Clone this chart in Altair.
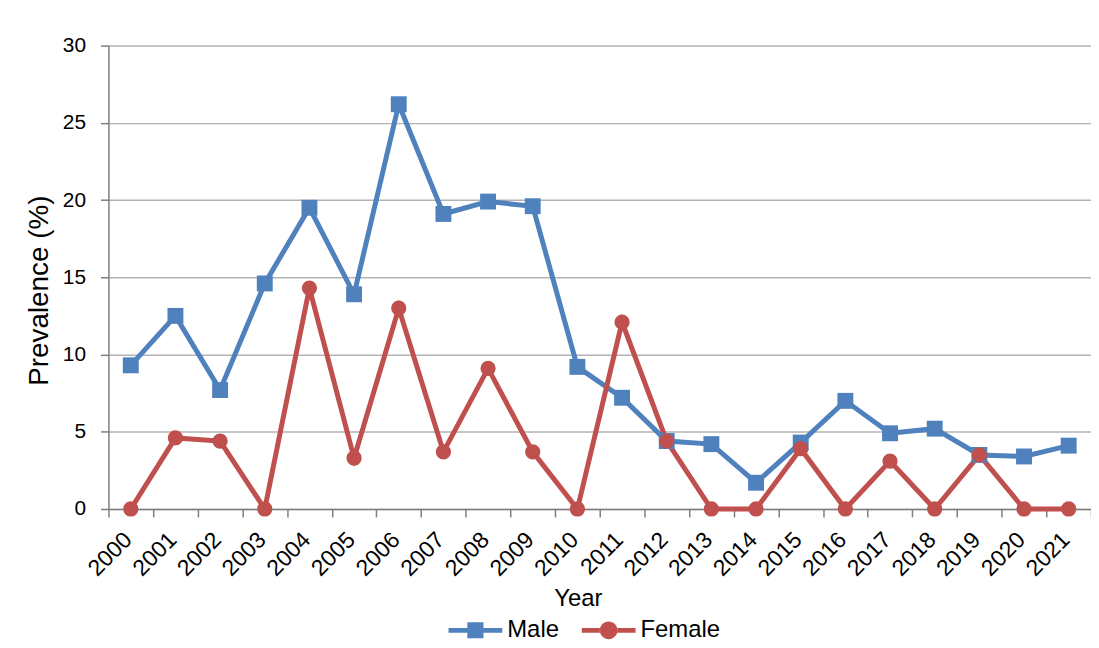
import altair as alt
import pandas as pd

years = ["2000", "2001", "2002", "2003", "2004", "2005", "2006", "2007", "2008", "2009", "2010",
         "2011", "2012", "2013", "2014", "2015", "2016", "2017", "2018", "2019", "2020", "2021"]
male = [9.3, 12.5, 7.7, 14.6, 19.5, 13.9, 26.2, 19.1, 19.9, 19.6, 9.2,
        7.2, 4.4, 4.2, 1.7, 4.3, 7.0, 4.9, 5.2, 3.5, 3.4, 4.1]
female = [0.0, 4.6, 4.4, 0.0, 14.3, 3.3, 13.0, 3.7, 9.1, 3.7, 0.0,
          12.1, 4.4, 0.0, 0.0, 3.9, 0.0, 3.1, 0.0, 3.5, 0.0, 0.0]
series = ["Male", "Female"]
colors = ["#4F81BD", "#C0504D"]
shapes = ["square", "circle"]

rows = []
for name, vals in zip(series, [male, female]):
    for y, v in zip(years, vals):
        rows.append({"Year": y, "Sex": name, "Prevalence": v})
df = pd.DataFrame(rows)

FONT = "Liberation Sans"

male_sym = "M-1,-0.09H-0.3V0.09H-1Z M0.3,-0.09H1V0.09H0.3Z M-0.3,-0.3H0.3V0.3H-0.3Z"
female_sym = ("M-1,-0.09H-0.32V0.09H-1Z M0.32,-0.09H1V0.09H0.32Z "
              "M-0.33,0A0.33,0.33,0,1,0,0.33,0A0.33,0.33,0,1,0,-0.33,0Z")

x_enc = alt.X(
    "Year:O",
    bandPosition=0.5,
    scale=alt.Scale(type="band", paddingInner=0, paddingOuter=0),
    axis=alt.Axis(
        title="Year", tickBand="extent", labelAngle=-45, labelAlign="right",
        labelBaseline="middle", labelFontSize=23, labelPadding=19, labelOffset=-3,
        labelFont=FONT, labelColor="#000000", tickSize=8, tickColor="#7f7f7f", tickWidth=1.5,
        domainColor="#7f7f7f", domainWidth=1.5, grid=False,
        titleFontSize=24, titleFont=FONT, titleFontWeight="normal", titleColor="#000000",
        titleX=472, titleY=97, titleBaseline="alphabetic", titleAlign="center",
    ),
)
y_enc = alt.Y(
    "Prevalence:Q",
    scale=alt.Scale(domain=[0, 30], nice=False),
    axis=alt.Axis(
        title="Prevalence (%)", values=[0, 5, 10, 15, 20, 25, 30],
        labelFontSize=21, labelFont=FONT, labelColor="#000000", labelPadding=15,
        tickSize=8, tickColor="#7f7f7f", tickWidth=1.5,
        domainColor="#7f7f7f", domainWidth=1.5,
        grid=True, gridColor="#b3b3b3", gridWidth=1.5,
        titleFontSize=28, titleFont=FONT, titleFontWeight="normal", titleColor="#000000",
        titleX=-69, titleY=246, titleAngle=-90, titleAlign="center", titleBaseline="middle",
    ),
)

shape_expr = "datum.value === 'Male' ? '%s' : '%s'" % (male_sym, female_sym)
fill_expr = "datum.value === 'Male' ? '%s' : '%s'" % (colors[0], colors[1])

color_enc = alt.Color(
    "Sex:N",
    scale=alt.Scale(domain=series, range=colors),
    sort=series,
    legend=alt.Legend(
        title=None, orient="none", legendX=342, legendY=561, direction="horizontal",
        columns=2, symbolSize=2916, labelFontSize=24, labelFont=FONT, labelColor="#000000",
        labelOffset=5, columnPadding=22, padding=0, symbolStrokeWidth=0,
        symbolType=alt.ExprRef(expr=shape_expr),
        symbolFillColor=alt.ExprRef(expr=fill_expr),
        symbolStrokeColor="transparent", symbolOpacity=1,
    ),
)

base = alt.Chart(df)
lines = base.mark_line(strokeWidth=5).encode(x=x_enc, y=y_enc, color=color_enc)

point_layers = []
for name, col, shp, sz in zip(series, colors, shapes, [256, 235]):
    point_layers.append(
        base.transform_filter(alt.datum.Sex == name)
        .mark_point(filled=True, size=sz, opacity=1, color=col, shape=shp)
        .encode(x=x_enc, y=y_enc)
    )

chart = (
    alt.layer(lines, *point_layers)
    .properties(
        width=988, height=466,
        autosize=alt.AutoSizeParams(type="none"),
        padding={"left": 101, "top": 36, "right": 0, "bottom": 136},
        background="#ffffff",
    )
    .configure_view(stroke=None)
)

chart.save("out.html", embed_options={"renderer": "svg", "actions": False})
